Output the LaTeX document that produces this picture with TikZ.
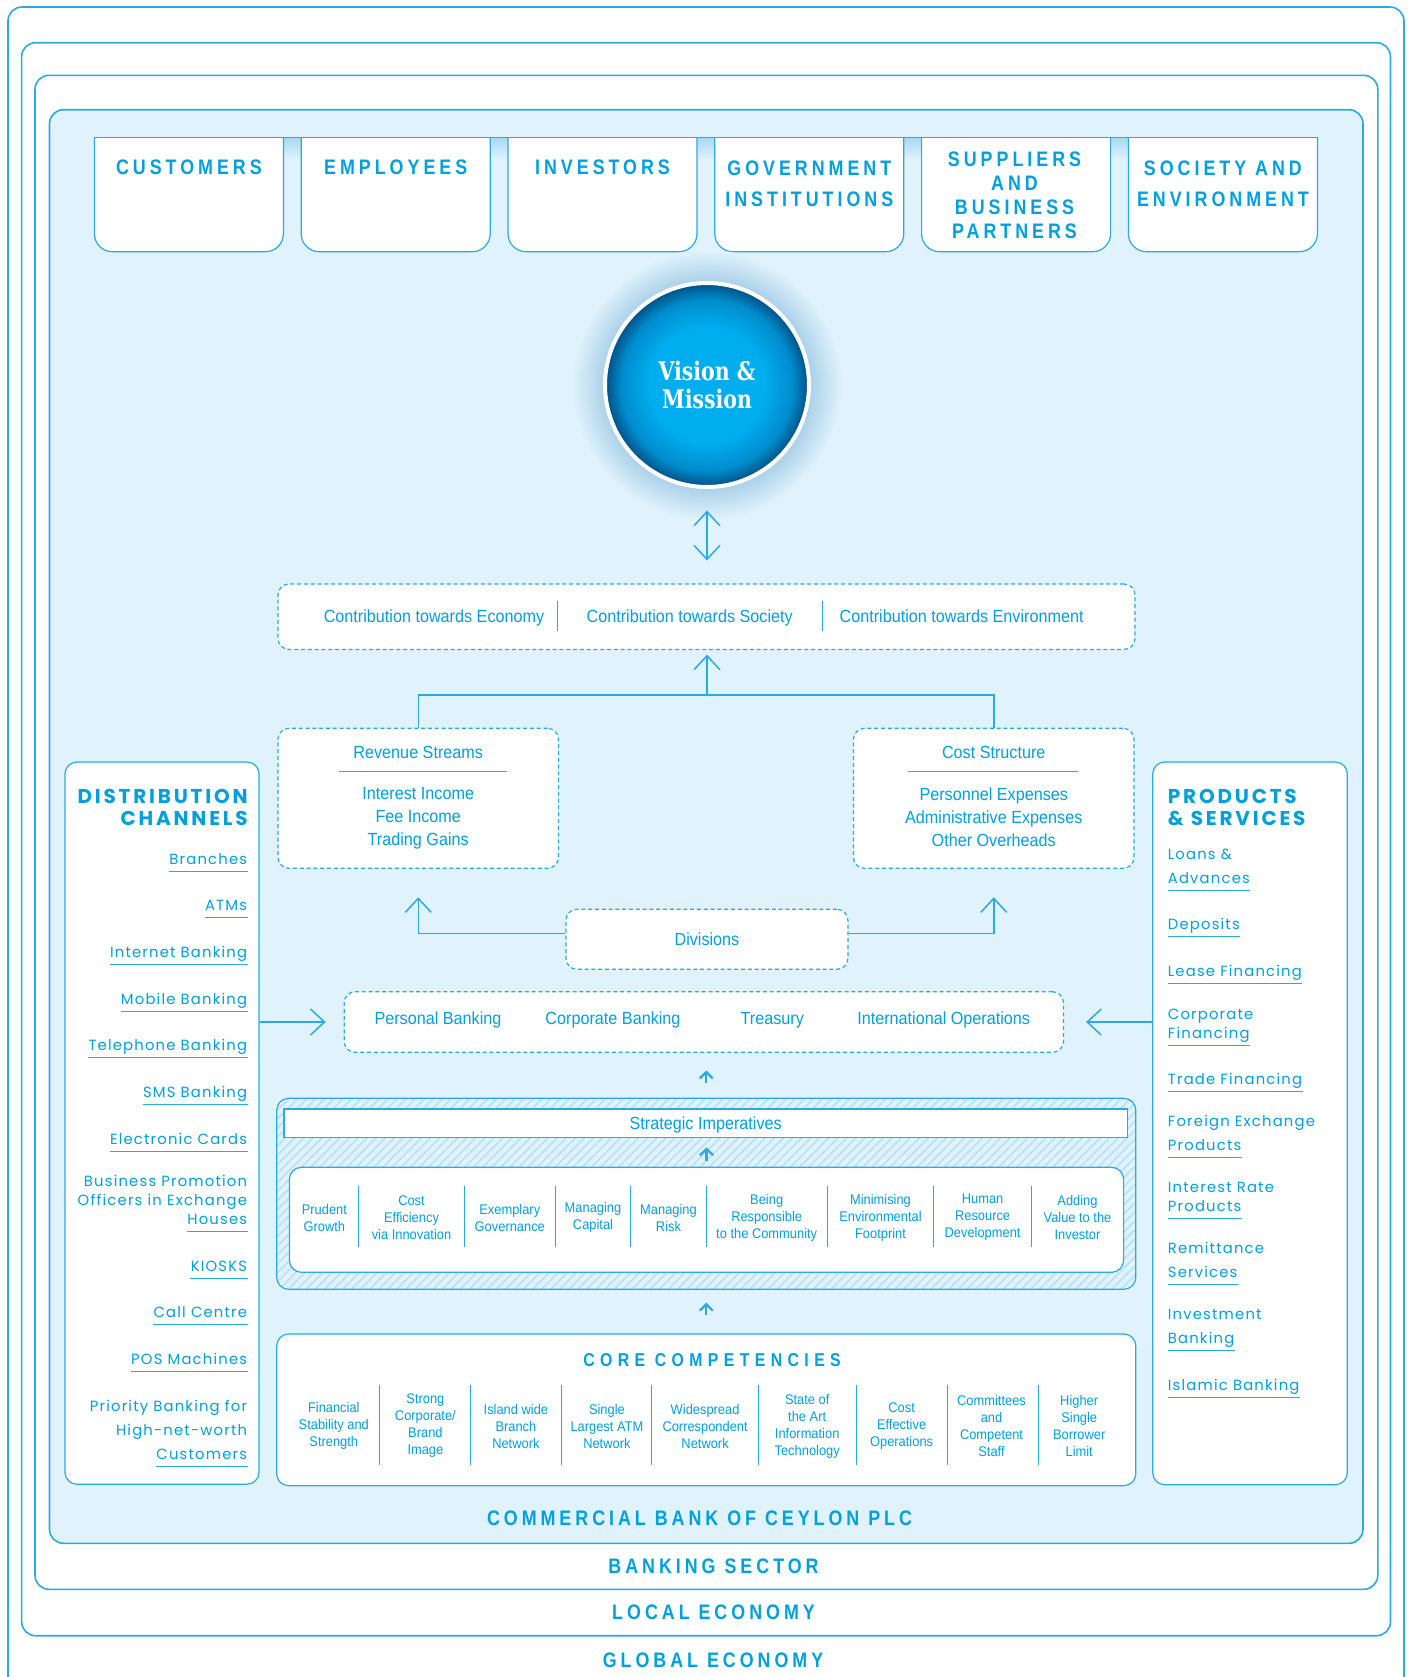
\documentclass[tikz,border=0pt]{standalone}
\usepackage{fontspec}
\usetikzlibrary{arrows.meta,patterns.meta}
\newfontfamily\headfont{Liberation Sans}[FakeStretch=0.85,LetterSpace=19]
\newfontfamily\corefont{Liberation Sans}[FakeStretch=0.85,LetterSpace=29]
\newfontfamily\bodyfont{Liberation Sans}[FakeStretch=0.92]
\newfontfamily\listfont{Poppins}[LetterSpace=8]
\newfontfamily\listhead{Poppins}[LetterSpace=14]
\newfontfamily\slabfont{DejaVu Serif}[FakeStretch=0.8]
\definecolor{cbline}{RGB}{41,170,225}
\definecolor{cbtext}{RGB}{0,160,223}
\definecolor{cbbg}{RGB}{224,243,252}
\definecolor{cbhatch}{RGB}{186,224,245}
\definecolor{cbgap}{RGB}{168,216,242}
\definecolor{cbglow}{RGB}{170,208,232}
\definecolor{visA}{RGB}{0,174,239}
\definecolor{visM}{RGB}{0,140,205}
\definecolor{visB}{RGB}{0,78,130}
\pgfdeclareradialshading{visionshade}{\pgfpoint{0bp}{0bp}}{color(0bp)=(visA); color(14bp)=(visA); color(21bp)=(visM); color(25bp)=(visB); color(50bp)=(visB)}
\pgfdeclareradialshading{glowshade}{\pgfpoint{0bp}{0bp}}{color(0bp)=(cbglow); color(19bp)=(cbglow); color(25bp)=(cbbg); color(50bp)=(cbbg)}
\tikzset{
  outerframe/.style={draw=cbline, line width=0.8pt, rounded corners=7pt},
  stakebox/.style={draw=cbline, fill=white, line width=0.6pt, rounded corners=9pt},
  dashbox/.style={draw=cbline, fill=white, line width=0.6pt, dash pattern=on 2pt off 1.4pt, rounded corners=5.5pt, inner sep=0pt},
  roundbox/.style={draw=cbline, fill=white, line width=0.6pt, rounded corners=6pt, inner sep=0pt},
  headpitch/.style={font=\headfont\bfseries\fontsize{10.5}{#1}\selectfont},
  stakehead/.style={headpitch=15.25pt, text=cbtext, align=center, inner sep=0pt},
  bodytext/.style={font=\bodyfont\fontsize{8.8}{11.5}\selectfont, text=cbtext, align=center, inner sep=0pt},
  coltext/.style={font=\bodyfont\fontsize{7}{8.5}\selectfont, text=cbtext, align=center, inner sep=0pt},
  chanitem/.style={font=\listfont\fontsize{7.4}{9}\selectfont, text=cbtext, inner sep=0pt, text depth=0pt},
  chantitle/.style={font=\listhead\bfseries\fontsize{10}{11}\selectfont, text=cbtext, inner sep=0pt},
  ulstyle/.style={draw=cbline, line width=0.5pt},
  divider/.style={draw=cbline, line width=0.5pt},
  link/.style={draw=cbline, line width=0.75pt},
  flow/.style={link, -{Straight Barb[length=7pt,width=13pt]}},
  flowboth/.style={link, {Straight Barb[length=7pt,width=13pt]}-{Straight Barb[length=7pt,width=13pt]}},
  nudge/.style={draw=cbline, line width=1.1pt, -{Straight Barb[length=3.2pt,width=6.5pt]}},
}
\begin{document}
\begin{tikzpicture}[x=0.5pt,y=-0.5pt]
  \useasboundingbox (0,0) rectangle (1410,1677);
  % nested frames
  \draw[outerframe] (8,1700) -- (8,7) -- (1404,7) -- (1404,1700);
  \draw[outerframe] (21.6,42.7) rectangle (1390.5,1635.7);
  \draw[outerframe] (35,75.3) rectangle (1377.8,1589.3);
  \filldraw[outerframe, fill=cbbg] (49.5,109.7) rectangle (1363,1543.3);
  \node[stakehead, anchor=base] (bank) at (699.5,1525.2) {COMMERCIAL BANK OF CEYLON PLC};
  \node[stakehead, anchor=base] (sector) at (713.5,1573.2) {BANKING SECTOR};
  \node[stakehead, anchor=base] (local) at (713.5,1619.9) {LOCAL ECONOMY};
  \node[stakehead, anchor=base] (global) at (713,1667.2) {GLOBAL ECONOMY};

  % stakeholders
  \foreach \i in {0,...,4}
    \shade[top color=cbgap, bottom color=cbbg] ({283.4+206.8*\i},137.3) rectangle ({301.2+206.8*\i},160);
  \foreach \i in {0,...,5}
    \filldraw[stakebox] ({94.4+206.8*\i},137.3) -- ({94.4+206.8*\i},251.7) -- ({283.4+206.8*\i},251.7) -- ({283.4+206.8*\i},137.3);
  \draw[ulstyle, line width=0.6pt] (94.4,137.3) -- (1318.1,137.3);
  \node[stakehead] (customers) at (188.9,167.5) {CUSTOMERS};
  \node[stakehead] (employees) at (395.7,167.5) {EMPLOYEES};
  \node[stakehead] (investors) at (602.5,167.5) {INVESTORS};
  \node[stakehead] (government) at (809.3,183.6) {GOVERNMENT\\INSTITUTIONS};
  \node[stakehead, headpitch=12pt] (suppliers) at (1014.5,195) {SUPPLIERS\\AND\\BUSINESS\\PARTNERS};
  \node[stakehead] (society) at (1222.9,183.6) {SOCIETY AND\\ENVIRONMENT};

  % vision
  \shade[shading=glowshade] (707,385) circle (67.5pt);
  \node[circle, shade, shading=visionshade, draw=white, line width=2pt, minimum size=102pt,
        text=white, align=center, font=\slabfont\bfseries\fontsize{12.8}{14}\selectfont] (vision) at (707,385) {Vision \&\\Mission};

  % contributions
  \node[dashbox, minimum width=428.5pt, minimum height=32.7pt] (contrib) at (706.5,616.7) {};
  \node[bodytext, anchor=base] (economy) at (434,622.2) {Contribution towards Economy};
  \node[bodytext, anchor=base] (society2) at (689.7,622.2) {Contribution towards Society};
  \node[bodytext, anchor=base] (environment) at (961.6,622.2) {Contribution towards Environment};
  \draw[divider] (557.3,600.7) -- (557.3,630.7);
  \draw[divider] (822,600.7) -- (822,630.7);
  \draw[flowboth, shorten <=10.8pt, shorten >=11.5pt] (vision) -- (vision |- contrib.north);

  % revenue and cost
  \node[dashbox, minimum width=140.25pt, minimum height=70pt] (revenue) at (418.25,798.3) {};
  \node[dashbox, minimum width=140.25pt, minimum height=70pt] (cost) at (993.75,798.3) {};
  \node[bodytext, anchor=base] (revtitle) at (418.25,758.9) {Revenue Streams};
  \node[bodytext, anchor=base] (costtitle) at (993.75,758.9) {Cost Structure};
  \draw[ulstyle] (338.5,771) -- (507,771);
  \draw[ulstyle] (908,771) -- (1077.5,771);
  \node[bodytext] (revitems) at (418.25,818.5) {Interest Income\\Fee Income\\Trading Gains};
  \node[bodytext] (costitems) at (993.75,817.5) {Personnel Expenses\\Administrative Expenses\\Other Overheads};
  \coordinate (fan) at (707,695);
  \draw[link] (revenue.north) |- (fan) -| (cost.north);
  \draw[flow, shorten >=2.3pt] (fan) -- (fan |- contrib.south);

  % divisions
  \node[dashbox, minimum width=141pt, minimum height=30pt, bodytext] (divisions) at (706.95,939.3) {Divisions};
  \draw[flow, shorten >=14.2pt] ([yshift=3pt]divisions.west) -| (revenue.south);
  \draw[flow, shorten >=14.2pt] ([yshift=3pt]divisions.east) -| (cost.south);
  \node[dashbox, minimum width=359.65pt, minimum height=30.3pt] (divrow) at (703.85,1022) {};
  \node[bodytext, anchor=base] (personal) at (438,1024.5) {Personal Banking};
  \node[bodytext, anchor=base] (corporate) at (613,1024.5) {Corporate Banking};
  \node[bodytext, anchor=base] (treasury) at (772.3,1024.5) {Treasury};
  \node[bodytext, anchor=base] (international) at (943.7,1024.5) {International Operations};

  % strategic imperatives
  \node[draw=cbline, line width=0.6pt, rounded corners=6pt, preaction={fill=cbbg},
        pattern={Lines[angle=45,distance=3.2pt,line width=0.8pt]}, pattern color=cbhatch,
        minimum width=429.55pt, minimum height=95.5pt, inner sep=0pt] (hatch) at (706.25,1193.8) {};
  \node[draw=cbline, fill=white, line width=0.6pt, minimum width=421.8pt, minimum height=14.15pt,
        inner sep=0pt] (impbar) at (705.7,1123.15) {};
  \node[bodytext, anchor=base] (imptitle) at (705.7,1129.5) {Strategic Imperatives};
  \node[roundbox, minimum width=417.1pt, minimum height=52.5pt] (impbox) at (706.5,1219.8) {};
  \foreach \x in {358.8,464.3,555.8,630.8,706.8,827.8,933.2,1031.5}
    \draw[divider] (\x,1185.7) -- (\x,1247.3);
  \foreach \x/\txt [count=\n] in {324.4/{Prudent\\Growth}, 411.5/{Cost\\Efficiency\\via Innovation},
      509.8/{Exemplary\\Governance}, 593/{Managing\\Capital}, 668.5/{Managing\\Risk},
      766.7/{Being\\Responsible\\to the Community}, 880.5/{Minimising\\Environmental\\Footprint},
      982.6/{Human\\Resource\\Development}, 1077.5/{Adding\\Value to the\\Investor}}
    \node[coltext] (imp\n) at (\x,1217.6) {\txt};
  \draw[nudge, shorten <=7.5pt, shorten >=8.8pt] (hatch.north) -- (hatch.north |- divrow.south);
  \draw[nudge, shorten <=2.8pt, shorten >=4.7pt] (impbox.north) -- (impbox.north |- impbar.south);

  % core competencies
  \node[roundbox, minimum width=429.55pt, minimum height=75.85pt] (core) at (706.25,1409.85) {};
  \node[font=\corefont\bfseries\fontsize{9.3}{11}\selectfont, text=cbtext, inner sep=0pt, anchor=base] (coretitle) at (712,1366.7) {CORE COMPETENCIES};
  \foreach \x in {379.9,470.9,561.4,651.8,758.4,856.6,947.1,1038.1}
    \draw[divider] (\x,1385) -- (\x,1465);
  \foreach \x/\txt [count=\n] in {333.8/{Financial\\Stability and\\Strength}, 425.4/{Strong\\Corporate/\\Brand\\Image},
      515.9/{Island wide\\Branch\\Network}, 606.9/{Single\\Largest ATM\\Network},
      705.1/{Widespread\\Correspondent\\Network}, 807.2/{State of\\the Art\\Information\\Technology},
      901.6/{Cost\\Effective\\Operations}, 991.5/{Committees\\and\\Competent\\Staff},
      1079.2/{Higher\\Single\\Borrower\\Limit}}
    \node[coltext] (comp\n) at (\x,1426) {\txt};
  \draw[nudge, shorten <=9pt, shorten >=6.3pt] (core.north) -- (core.north |- hatch.south);

  % distribution channels
  \node[roundbox, minimum width=97pt, minimum height=361.1pt] (distrib) at (162,1123.1) {};
  \node[chantitle, anchor=base east] (distitle) at (248,803.6) {DISTRIBUTION};
  \node[chantitle, anchor=base east] (distitle2) at (248,825.5) {CHANNELS};
  \foreach \bl/\txt [count=\n] in {864.5/Branches, 910.8/ATMs, 957.7/Internet Banking, 1004.5/Mobile Banking,
      1050.9/Telephone Banking, 1097.7/SMS Banking, 1144.1/Electronic Cards, 1224.4/Houses,
      1271.3/KIOSKS, 1317.2/Call Centre, 1364.9/POS Machines, 1459.2/Customers}{
    \node[chanitem, anchor=base east] (chan\n) at (247.5,\bl) {\txt};
    \draw[ulstyle] ([yshift=-3.25pt]chan\n.south west) -- ([yshift=-3.25pt]chan\n.south east);
  }
  \node[chanitem, anchor=base east] (chan8a) at (247.5,1186.2) {Business Promotion};
  \node[chanitem, anchor=base east] (chan8b) at (247.5,1205.3) {Officers in Exchange};
  \node[chanitem, anchor=base east] (chan12a) at (247.5,1411.4) {Priority Banking for};
  \node[chanitem, anchor=base east] (chan12b) at (247.5,1435.3) {High-net-worth};
  \draw[flow, shorten >=9pt] (distrib.east |- divrow.west) -- (divrow.west);

  % products and services
  \node[roundbox, minimum width=97.3pt, minimum height=361.35pt] (products) at (1250,1123.35) {};
  \node[chantitle, anchor=base west] (prodtitle) at (1167.5,803.5) {PRODUCTS};
  \node[chantitle, anchor=base west] (prodtitle2) at (1167.5,825.5) {\& SERVICES};
  \foreach \bl/\txt [count=\n] in {883.5/Advances, 929.9/Deposits, 976.8/Lease Financing, 1038.5/Financing,
      1084.3/Trade Financing, 1150.3/Products, 1211.9/Products, 1277.5/Services,
      1343.5/Banking, 1390.2/Islamic Banking}{
    \node[chanitem, anchor=base west] (prod\n) at (1167.5,\bl) {\txt};
    \draw[ulstyle] ([yshift=-3.25pt]prod\n.south west) -- ([yshift=-3.25pt]prod\n.south east);
  }
  \node[chanitem, anchor=base west] (prod1a) at (1167.5,859.5) {Loans \&};
  \node[chanitem, anchor=base west] (prod4a) at (1167.5,1019.4) {Corporate};
  \node[chanitem, anchor=base west] (prod6a) at (1167.5,1126.4) {Foreign Exchange};
  \node[chanitem, anchor=base west] (prod7a) at (1167.5,1192.9) {Interest Rate};
  \node[chanitem, anchor=base west] (prod8a) at (1167.5,1253.6) {Remittance};
  \node[chanitem, anchor=base west] (prod9a) at (1167.5,1319.5) {Investment};
  \draw[flow, shorten >=11pt] (products.west |- divrow.east) -- (divrow.east);
\end{tikzpicture}
\end{document}
